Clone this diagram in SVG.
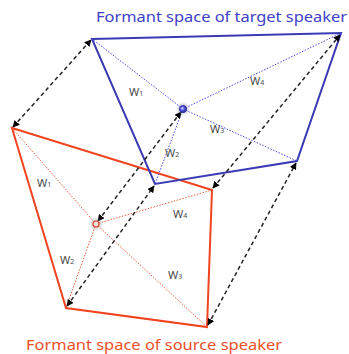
<svg xmlns="http://www.w3.org/2000/svg" width="349" height="354" viewBox="0 0 349 354">
  <defs>
    <marker id="head" viewBox="0 0 10 10" refX="9" refY="5" markerWidth="7" markerHeight="7" markerUnits="userSpaceOnUse" orient="auto-start-reverse">
      <path d="M0,0 L10,5 L0,10 z" fill="#000"/>
    </marker>
    <radialGradient id="blueDot" cx="0.4" cy="0.4" r="0.6">
      <stop offset="0" stop-color="#d8dcff"/>
      <stop offset="0.5" stop-color="#5a5ae0"/>
      <stop offset="1" stop-color="#2a2a9a"/>
    </radialGradient>
    <filter id="glow" x="-1" y="-1" width="3" height="3">
      <feGaussianBlur stdDeviation="1.5"/>
    </filter>
  </defs>
  <style>
    .title { font-family: "Noto Sans", "Open Sans", sans-serif; font-size: 15px; }
    .blueEdge { fill: none; stroke: #3a3ab4; stroke-width: 2; stroke-linejoin: miter; }
    .redEdge { fill: none; stroke: #f04420; stroke-width: 2; stroke-linejoin: miter; }
    .blueDot { stroke: #4a4ae0; stroke-width: 1; stroke-dasharray: 1.5 1.5; fill: none; }
    .redDot { stroke: #f05a40; stroke-width: 1; stroke-dasharray: 1.5 1.5; fill: none; }
    .link { stroke: #222; stroke-width: 1.5; stroke-dasharray: 4 3; fill: none; marker-start: url(#head); marker-end: url(#head); }
    .w { font-family: "Noto Sans", "Open Sans", sans-serif; font-size: 11px; fill: #4a4a4a; }
    .sub { font-size: 7px; }
  </style>

  <rect width="349" height="354" fill="#ffffff"/>

  <!-- source formant space -->
  <g id="source-space">
    <polygon class="redEdge" points="12,128 212,190 207,327 66,308"/>
    <line class="redDot" x1="96" y1="224" x2="12" y2="128"/>
    <line class="redDot" x1="96" y1="224" x2="212" y2="190"/>
    <line class="redDot" x1="96" y1="224" x2="207" y2="327"/>
    <line class="redDot" x1="96" y1="224" x2="66" y2="308"/>
    <text class="w" x="37" y="187">W<tspan class="sub" dy="0">1</tspan></text>
    <text class="w" x="173" y="218">W<tspan class="sub">4</tspan></text>
    <text class="w" x="60" y="264">W<tspan class="sub">2</tspan></text>
    <text class="w" x="168" y="279">W<tspan class="sub">3</tspan></text>
  </g>

  <!-- target formant space -->
  <g id="target-space">
    <polygon class="blueEdge" points="92,39 341,33 297,161 155,184"/>
    <line class="blueDot" x1="183" y1="109" x2="92" y2="39"/>
    <line class="blueDot" x1="183" y1="109" x2="341" y2="33"/>
    <line class="blueDot" x1="183" y1="109" x2="297" y2="161"/>
    <line class="blueDot" x1="183" y1="109" x2="155" y2="184"/>
    <text class="w" x="129" y="96">W<tspan class="sub">1</tspan></text>
    <text class="w" x="250" y="85">W<tspan class="sub">4</tspan></text>
    <text class="w" x="210" y="133">W<tspan class="sub">3</tspan></text>
    <text class="w" x="165" y="157">W<tspan class="sub">2</tspan></text>
  </g>

  <!-- vertex correspondences -->
  <g id="connectors">
    <line class="link" x1="13" y1="127" x2="91" y2="40"/>
    <line class="link" x1="213" y1="188" x2="340" y2="35"/>
    <line class="link" x1="208" y1="325" x2="296" y2="163"/>
    <line class="link" x1="67" y1="306" x2="154" y2="186"/>
    <line class="link" x1="98" y1="221" x2="181" y2="112"/>
  </g>

  <!-- weighted centre points -->
  <g id="target-point">
    <circle cx="183" cy="109" r="5" fill="#8888aa" opacity="0.6" filter="url(#glow)"/>
    <circle cx="183" cy="109" r="3.5" fill="url(#blueDot)" stroke="#3030a0" stroke-width="1"/>
  </g>
  <g id="source-point">
    <circle cx="96" cy="224" r="5" fill="#999999" opacity="0.6" filter="url(#glow)"/>
    <circle cx="96" cy="224" r="3" fill="#fde0d8" stroke="#e04a30" stroke-width="1.2"/>
  </g>

  <g id="target-title">
    <text class="title" x="96" y="22" fill="#4040c8" textLength="251" lengthAdjust="spacingAndGlyphs">Formant space of target speaker</text>
  </g>
  <g id="source-title">
    <text class="title" x="26" y="350" fill="#ec5028" textLength="256" lengthAdjust="spacingAndGlyphs">Formant space of source speaker</text>
  </g>
</svg>
